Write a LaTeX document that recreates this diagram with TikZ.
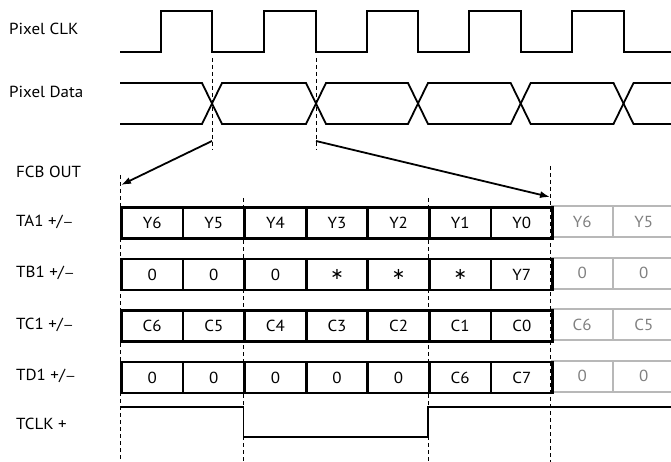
\documentclass[tikz,border=0pt]{standalone}
\usepackage{fontspec}
\setmainfont{PT Sans}[FakeStretch=1.06]
\newfontfamily\symfont{DejaVu Sans}
\usetikzlibrary{arrows.meta}
\newcommand{\pmdash}{+/{\fontsize{12.5}{14}\selectfont —}}
\newcommand{\astx}{{\symfont ∗}}
\begin{document}
\begin{tikzpicture}[x=1pt,y=-1pt,
  txt/.style={font=\fontsize{16}{18}\selectfont},
  lbl/.style={txt,anchor=west,inner sep=0pt},
  cell/.style={txt,draw,line width=2.8pt,minimum width=61.6pt,minimum height=31pt,anchor=north west,inner sep=0pt},
  gcell/.style={txt,text=black!50,minimum width=61.6pt,minimum height=31pt,anchor=north west,inner sep=0pt},
  gline/.style={draw=black!28,line width=2pt},
  sig/.style={line width=1.8pt,line join=miter},
  tclk/.style={line width=1.4pt},
  guide/.style={dash pattern=on 4pt off 3pt,line width=0.9pt},
  arr/.style={-{Latex[length=10pt,width=7pt]},line width=1.8pt}]
\useasboundingbox (0,0) rectangle (671,462);

% labels
\node[lbl] (lclk) at (9,29) {Pixel CLK};
\node[lbl] (ldata) at (9,92) {Pixel Data};
\node[lbl] (lfcb) at (16,172) {FCB OUT};
\node[lbl] (lta) at (16,222) {TA1 \pmdash};
\node[lbl] (ltb) at (16,273) {TB1 \pmdash};
\node[lbl] (ltc) at (16,325) {TC1 \pmdash};
\node[lbl] (ltd) at (16,376) {TD1 \pmdash};
\node[lbl] (ltclk) at (16,424) {TCLK +};

% pixel clock
\draw[sig] (120,52) -- (161,52) -- (161,11) -- (212,11) -- (212,52)
  -- (264,52) -- (264,11) -- (316,11) -- (316,52)
  -- (366.7,52) -- (366.7,11) -- (418,11) -- (418,52)
  -- (469.3,52) -- (469.3,11) -- (520.7,11) -- (520.7,52)
  -- (572.3,52) -- (572.3,11) -- (623.7,11) -- (623.7,52) -- (671,52);

% pixel data
\draw[sig] (120,83) -- (202,83) -- (222,124) -- (306,124) -- (326,83)
  -- (408,83) -- (428,124) -- (510.7,124) -- (530.7,83)
  -- (613.5,83) -- (633.5,124) -- (671,124);
\draw[sig] (120,124) -- (202,124) -- (222,83) -- (306,83) -- (326,124)
  -- (408,124) -- (428,83) -- (510.7,83) -- (530.7,124)
  -- (613.5,124) -- (633.5,83) -- (671,83);

% guides
\draw[guide] (212,58) -- (212,150);
\draw[guide] (316,58) -- (316,150);
\draw[guide] (120,175) -- (120,462);
\draw[guide] (550.8,166) -- (550.8,462);
\draw[guide] (243.2,198) -- (243.2,462);
\draw[guide] (428,198) -- (428,462);

% arrows
\coordinate (s1) at (212,141);
\coordinate (e1) at (121,185);
\coordinate (s2) at (316,141);
\coordinate (e2) at (550,197);
\draw[arr] (s1) -- (e1);
\draw[arr] (s2) -- (e2);

% grey continuation
\foreach \tp in {206,257.5,309,360.5}{
  \draw[gline] (551.2,\tp) -- (671,\tp);
  \draw[gline] (551.2,\tp+31) -- (671,\tp+31);
  \draw[gline] (612.8,\tp) -- (612.8,\tp+31);
}
\foreach \t [count=\i] in {Y6,Y5}
  \node[gcell] (ga\i) at ({551.2+61.6*(\i-1)},206) {\t};
\foreach \t [count=\i] in {0,0}
  \node[gcell] (gb\i) at ({551.2+61.6*(\i-1)},257.5) {\t};
\foreach \t [count=\i] in {C6,C5}
  \node[gcell] (gc\i) at ({551.2+61.6*(\i-1)},309) {\t};
\foreach \t [count=\i] in {0,0}
  \node[gcell] (gd\i) at ({551.2+61.6*(\i-1)},360.5) {\t};

% black cells
\foreach \t [count=\i] in {Y6,Y5,Y4,Y3,Y2,Y1,Y0}
  \node[cell] (a\i) at ({120+61.6*(\i-1)},206) {\t};
\foreach \t [count=\i] in {0,0,0,\astx,\astx,\astx,Y7}
  \node[cell] (b\i) at ({120+61.6*(\i-1)},257.5) {\t};
\foreach \t [count=\i] in {C6,C5,C4,C3,C2,C1,C0}
  \node[cell] (c\i) at ({120+61.6*(\i-1)},309) {\t};
\foreach \t [count=\i] in {0,0,0,0,0,C6,C7}
  \node[cell] (d\i) at ({120+61.6*(\i-1)},360.5) {\t};

% TCLK
\draw[tclk] (120,407) -- (243.2,407) -- (243.2,437) -- (428,437) -- (428,407) -- (671,407);
\end{tikzpicture}
\end{document}
